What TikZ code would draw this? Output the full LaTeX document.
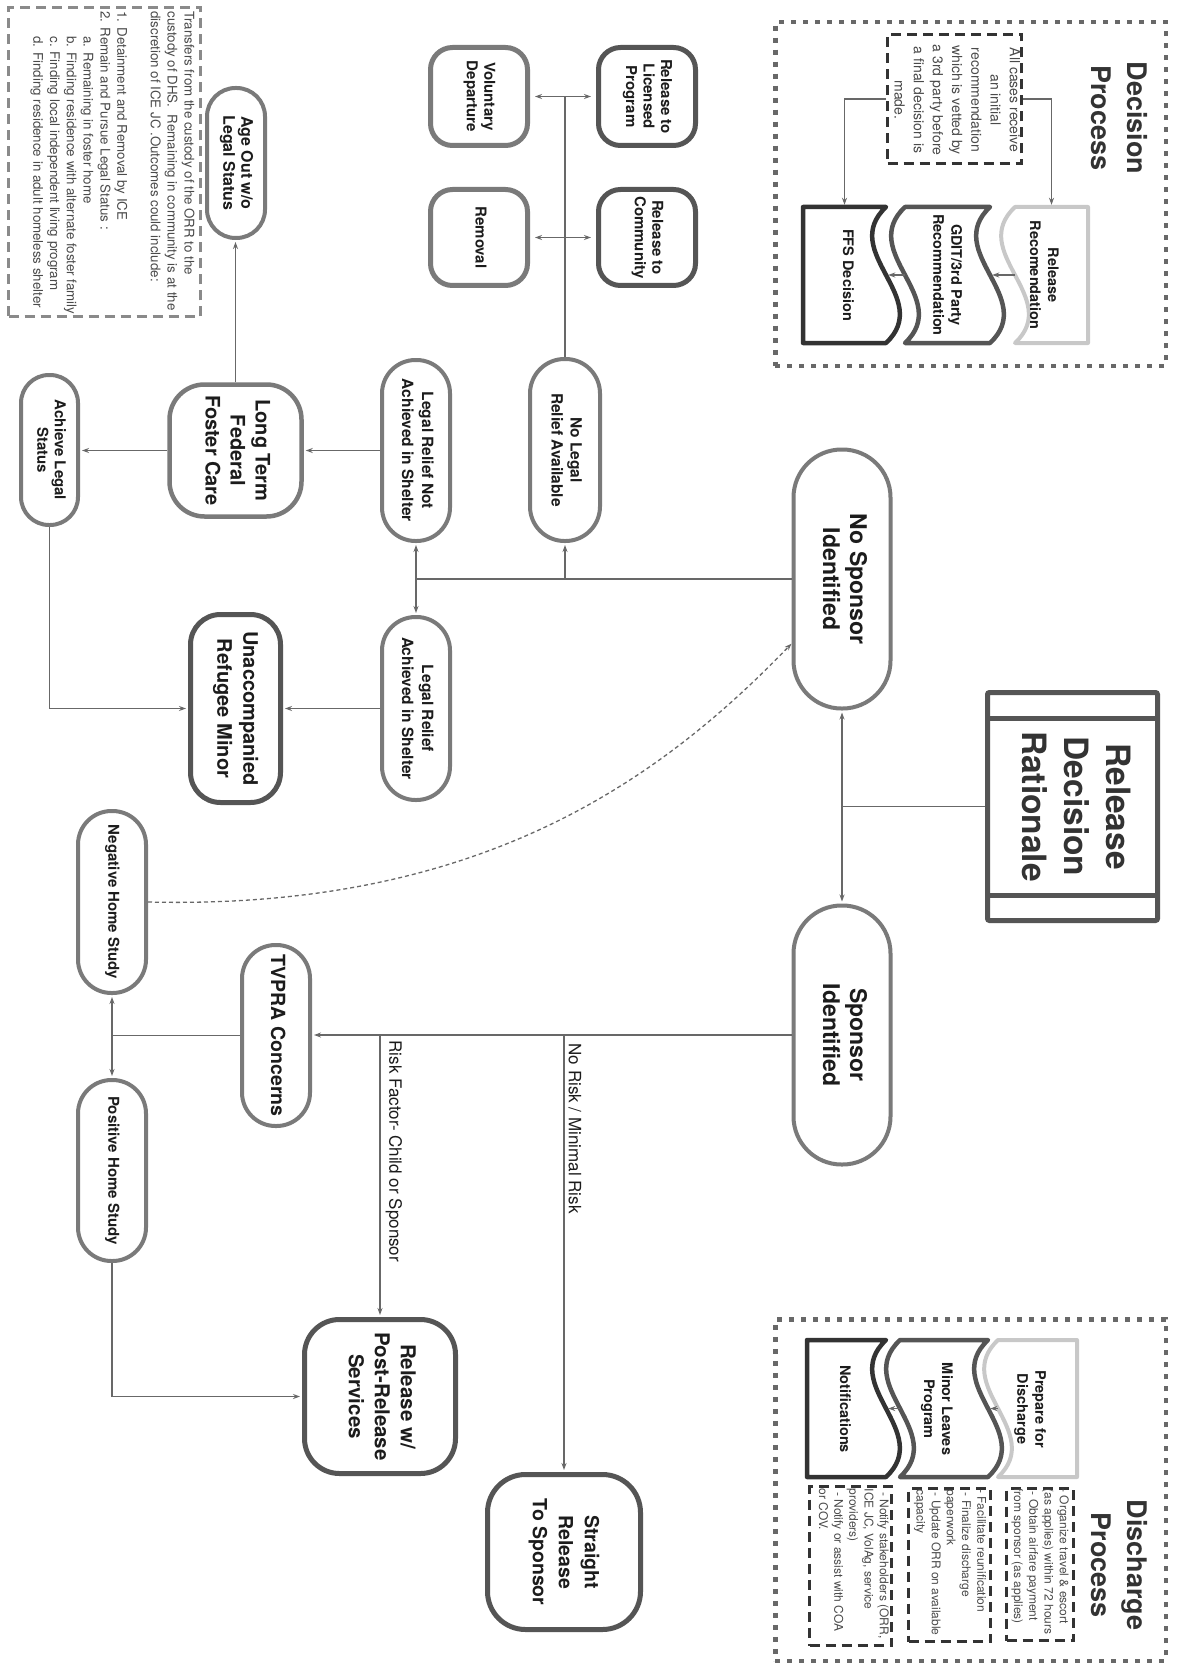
\documentclass[tikz,border=0pt]{standalone}
\usepackage{fontspec}
\setmainfont{TeX Gyre Heros}
\usepackage{graphicx}
\usetikzlibrary{arrows.meta}
\definecolor{cstad}{HTML}{7A7A7A}
\definecolor{cdark}{HTML}{555555}
\definecolor{cdarker}{HTML}{333333}
\definecolor{clight}{HTML}{C8C8C8}
\definecolor{cline}{HTML}{686868}
\definecolor{cgrey}{HTML}{8A8A8A}
\definecolor{ctext}{HTML}{1C1C1C}
\definecolor{cnote}{HTML}{4A4A4A}
\newcommand\vtxt[1]{\rotatebox{-90}{\begin{tabular}{@{}c@{}}#1\end{tabular}}}
\newcommand\vltxt[1]{\rotatebox{-90}{\begin{tabular}{@{}l@{}}#1\end{tabular}}}
\newcommand\fsz[2]{\fontsize{#1}{#2}\selectfont}
\begin{document}
\begin{tikzpicture}[x=1pt,y=-1pt,
  sz/.style 2 args={minimum width=#1pt,minimum height=#2pt},
  stad/.style={draw=cstad,line width=4pt,fill=white,inner sep=0pt,text=ctext},
  gbox/.style={draw=cstad,line width=5pt,fill=white,inner sep=0pt,text=ctext},
  dbox/.style={draw=cdark,line width=5pt,fill=white,inner sep=0pt,text=ctext},
  conn/.style={draw=cline,line width=1.3pt},
  arr/.style={conn,-{Stealth[length=7pt,width=5pt]},shorten >=2pt},
  dbl/.style={conn,{Stealth[length=7pt,width=5pt]}-{Stealth[length=7pt,width=5pt]},shorten >=5pt,shorten <=5pt},
  notebox/.style={draw=cdarker,line width=3pt,dash pattern=on 10pt off 6pt,inner sep=0pt},
  greynote/.style={draw=cgrey,line width=3pt,dash pattern=on 10pt off 6pt,inner sep=0pt},
  dotbox/.style={draw=cline,line width=4.5pt,dash pattern=on 5pt off 7pt,inner sep=0pt},
  plain/.style={inner sep=0pt},
  lbl/.style={inner sep=0pt,text=ctext,font=\fsz{17}{20}},
  wtxt/.style={inner sep=0pt,text=ctext,font=\fsz{14.5}{18}\bfseries},
  ntxt/.style={inner sep=0pt,text=cnote},
  wlight/.style={draw=clight,line width=4pt,fill=white,line join=round},
  wmid/.style={draw=cdark,line width=4.5pt,fill=white,line join=round},
  wdark/.style={draw=cdarker,line width=4.5pt,fill=white,line join=round},
]
\fill[white] (0,0) rectangle (1177,1669);
\useasboundingbox (0,0) rectangle (1177,1669);

% ---------- Decision process ----------
\node[dotbox,sz={390.5}{343.5}] (decbox) at (970.5,194) {};
\node[plain,text=cdarker,font=\fsz{27}{36}\bfseries] (dectitle) at (1117,118) {\vtxt{Decision\\Process}};
\node[notebox,sz={134}{129}] (dbx) at (954.5,99) {};
\node[ntxt,font=\fsz{14}{19.2}] (dbxt) at (956,100) {\vtxt{All cases receive\\an initial\\recommendation\\which is vetted by\\a 3rd party before\\a final decision is\\made.}};
\node[plain,sz={73}{136}] (relrec) at (1051.5,275) {};
\node[plain,sz={85}{136}] (gdit) at (947.5,275) {};
\node[plain,sz={83}{136}] (ffs) at (844.5,275) {};
\draw[wlight] (1015,207) -- (1088,207) -- (1088,343) -- (1015,343) .. controls (1063,298) and (967,252) .. (1015,207) -- cycle;
\draw[wmid] (905,207) -- (990,207) .. controls (942,252) and (1038,298) .. (990,343) -- (905,343) .. controls (953,298) and (857,252) .. (905,207) -- cycle;
\draw[wdark] (803,207) -- (886,207) .. controls (838,252) and (934,298) .. (886,343) -- (803,343) -- cycle;
\node[wtxt] (relrecT) at (1042.6,275) {\vtxt{Release\\Recomendation}};
\node[wtxt] (gditT) at (946,275) {\vtxt{GDIT/3rd Party\\Recommendation}};
\node[wtxt] (ffsT) at (846.6,275) {\vtxt{FFS Decision}};
\draw[arr] (dbx.east) -| (relrec.north);
\draw[arr] (dbx.west) -| (ffs.north);
\draw[arr] (relrec.west) -- (gdit.east);
\draw[arr] (gdit.west) -- (ffs.east);

% ---------- Discharge process ----------
\node[dotbox,sz={390.5}{341.5}] (disbox) at (970.5,1490) {};
\node[plain,text=cdarker,font=\fsz{27}{36}\bfseries] (distitle) at (1117,1565) {\vtxt{Discharge\\Process}};
\node[plain,sz={79}{137}] (prep) at (1037.5,1408.5) {};
\node[plain,sz={88}{137}] (mlp) at (944,1408.5) {};
\node[plain,sz={79}{137}] (notif) at (846.5,1408.5) {};
\draw[wlight] (998,1340) -- (1077,1340) -- (1077,1477) -- (998,1477) .. controls (1046,1432) and (950,1385) .. (998,1340) -- cycle;
\draw[wmid] (900,1340) -- (988,1340) .. controls (940,1385) and (1036,1432) .. (988,1477) -- (900,1477) .. controls (948,1432) and (852,1385) .. (900,1340) -- cycle;
\draw[wdark] (807,1340) -- (886,1340) .. controls (838,1385) and (934,1432) .. (886,1477) -- (807,1477) -- cycle;
\node[wtxt] (prepT) at (1030,1409) {\vtxt{Prepare for\\Discharge}};
\node[wtxt] (mlpT) at (936.6,1409) {\vtxt{Minor Leaves\\Program}};
\node[wtxt] (notifT) at (843.6,1409) {\vtxt{Notifications}};
\draw[arr] (prep.west) -- (mlp.east);
\draw[arr] (mlp.west) -- (notif.east);
\node[notebox,sz={67}{152}] (db1) at (1040,1564.5) {};
\node[notebox,sz={82}{153}] (db2) at (949.5,1565) {};
\node[notebox,sz={82}{159}] (db3) at (850.5,1566) {};
\node[ntxt,font=\fsz{12}{15.2}] (db1t) at (1040,1561.5) {\vltxt{- Organize travel \& escort\\(as applies) within 72 hours\\\ - Obtain airfare payment\\from sponsor (as applies)}};
\node[ntxt,font=\fsz{12}{15.2}] (db2t) at (950,1562.5) {\vltxt{- Facilitate reunification\\\ - Finalize discharge\\paperwork\\\ - Update ORR on available\\capacity}};
\node[ntxt,font=\fsz{12}{15.2}] (db3t) at (852.5,1563.5) {\vltxt{\ - Notify stakeholders (ORR,\\ICE JC, VolAg, service\\providers)\\\ - Notify or assist with COA\\or COV.}};

% ---------- Release decision rationale ----------
\node[dbox,sz={170}{228},rounded corners=2pt,font=\fsz{33.5}{42}\bfseries,text=cdarker] (rdr) at (1072.5,806.5) {\vtxt{Release\\Decision\\Rationale}};
\draw[draw=cdark,line width=5pt] ([yshift=-28pt]rdr.north west) -- ([yshift=-28pt]rdr.north east);
\draw[draw=cdark,line width=5pt] ([yshift=28pt]rdr.south west) -- ([yshift=28pt]rdr.south east);

% ---------- main nodes ----------
\node[stad,sz={97}{259},rounded corners=48pt,font=\fsz{23}{27}\bfseries] (nsi) at (842,579) {\vtxt{No Sponsor\\Identified}};
\node[stad,sz={97}{259},rounded corners=48pt,font=\fsz{23}{27}\bfseries] (si) at (842,1035) {\vtxt{Sponsor\\Identified}};
\node[stad,sz={70}{182},rounded corners=34.5pt,font=\fsz{15.5}{19}\bfseries] (nlr) at (565,450) {\vtxt{No Legal\\Relief Available}};
\node[stad,sz={68}{181},rounded corners=33.5pt,font=\fsz{15.5}{20}\bfseries] (lrn) at (416,450.5) {\vtxt{Legal Relief Not\\Achieved in Shelter}};
\node[stad,sz={68}{183},rounded corners=33.5pt,font=\fsz{15.5}{20}\bfseries] (lra) at (416,708.5) {\vtxt{Legal Relief\\Achieved in Shelter}};
\node[stad,sz={58}{150},rounded corners=28.5pt,font=\fsz{16}{18}\bfseries] (age) at (236,163) {\vtxt{Age Out w/o\\Legal Status}};
\node[stad,sz={57}{150},rounded corners=28pt,font=\fsz{15}{17.5}\bfseries] (als) at (49.5,450) {\vtxt{Achieve Legal\\Status}};
\node[stad,sz={68}{181},rounded corners=33.5pt,font=\fsz{19.5}{24}\bfseries] (tvp) at (276,1035.5) {\vtxt{TVPRA Concerns}};
\node[stad,sz={68}{182},rounded corners=33.5pt,font=\fsz{15}{18}\bfseries] (nhs) at (112,902) {\vtxt{Negative Home Study}};
\node[stad,sz={68}{181},rounded corners=33.5pt,font=\fsz{15}{18}\bfseries] (phs) at (112,1170.5) {\vtxt{Positive Home Study}};

\node[gbox,sz={97}{98},rounded corners=22pt,font=\fsz{15}{17.5}\bfseries] (vd) at (479,96.5) {\vtxt{Voluntary\\Departure}};
\node[gbox,sz={97}{96},rounded corners=22pt,font=\fsz{15}{17.5}\bfseries] (rm) at (479,237.5) {\vtxt{Removal}};
\node[dbox,sz={97}{98},rounded corners=22pt,font=\fsz{15}{17.5}\bfseries] (rlp) at (647,96.5) {\vtxt{Release to\\Licensed\\Program}};
\node[dbox,sz={97}{96},rounded corners=22pt,font=\fsz{15}{17.5}\bfseries] (rc) at (647,237.5) {\vtxt{Release to\\Community}};
\node[gbox,line width=4.5pt,sz={132}{132},rounded corners=35pt,font=\fsz{20}{25}\bfseries] (ltf) at (235.5,450.5) {\vtxt{Long Term\\Federal\\Foster Care}};
\node[dbox,sz={90}{188},rounded corners=30pt,font=\fsz{20}{26}\bfseries] (urm) at (235.5,708.5) {\vtxt{Unaccompanied\\Refugee Minor}};
\node[dbox,sz={151}{154},rounded corners=35pt,font=\fsz{20.5}{26}\bfseries] (rps) at (380,1396.5) {\vtxt{Release w/\\Post-Release\\Services}};
\node[dbox,sz={153}{155},rounded corners=38pt,font=\fsz{19.5}{26}\bfseries] (srs) at (564,1552) {\vtxt{Straight\\Release\\To Sponsor}};

% ---------- age-out note ----------
\node[greynote,sz={192}{309}] (agebox) at (104.5,162) {};
\node[ntxt,font=\fsz{13.3}{16.8}] (aget) at (112.3,163) {\vltxt{Transfers from the custody of the ORR to the\\custody of DHS.~ Remaining in community is at the\\discretion of ICE JC .Outcomes could include:\\ \\1. Detainment and Removal by ICE\\2. Remain and Pursue Legal Status :\\\hspace*{25pt}a. Remaining in foster home\\\hspace*{25pt}b. Finding residence with alternate foster family\\\hspace*{25pt}c. Finding local independent living program\\\hspace*{25pt}d. Finding residence in adult homeless shelter}};

% ---------- connectors ----------
\draw[conn] (rdr.west) -- (nsi.center |- rdr.west) coordinate (j1);
\draw[arr] (j1) -- (nsi.south);
\draw[arr] (j1) -- (si.north);
\coordinate (j2) at (lrn.center |- nsi.west);
\draw[conn] (nsi.west) -- (j2);
\draw[arr] (nlr.center |- nsi.west) -- (nlr.south);
\draw[arr] (j2) -- (lrn.south);
\draw[arr] (j2) -- (lra.north);
\draw[conn] (nlr.north) -- (nlr.center |- vd.east);
\draw[dbl] (vd.east) -- (rlp.west);
\draw[dbl] (rm.east) -- (rc.west);
\draw[arr] (lrn.west) -- (lrn.west -| ltf.east);
\draw[arr] (ltf.north) -- (ltf.north |- age.south);
\draw[arr] (ltf.west) -- (ltf.west -| als.east);
\draw[arr] (lra.west) -- (urm.east);
\draw[arr] (als.south) |- (urm.west);
\draw[arr] (si.west) -- (si.west -| tvp.east);
\coordinate (j3) at (srs.north |- si.west);
\coordinate (j4) at (rps.north |- si.west);
\draw[arr] (j3) -- node[lbl,pos=0,anchor=north west,xshift=4pt,yshift=-8pt] (lblA) {\rotatebox{-90}{No Risk / Minimal Risk}} (srs.north);
\draw[arr] (j4) -- node[lbl,pos=0,anchor=north west,xshift=5pt,yshift=-5pt] (lblB) {\rotatebox{-90}{Risk Factor- Child or Sponsor}} (rps.north);
\coordinate (j5) at (nhs.center |- tvp.west);
\draw[conn] (tvp.west) -- (j5);
\draw[arr] (j5) -- (nhs.south);
\draw[arr] (j5) -- (phs.north);
\draw[arr] (phs.south) |- (rps.west);
\draw[conn,dash pattern=on 4pt off 3pt,-{Stealth[length=7pt,width=5pt]}] (nhs.east) .. controls (480,910) and (660,780) .. (nsi.232);
\end{tikzpicture}
\end{document}
